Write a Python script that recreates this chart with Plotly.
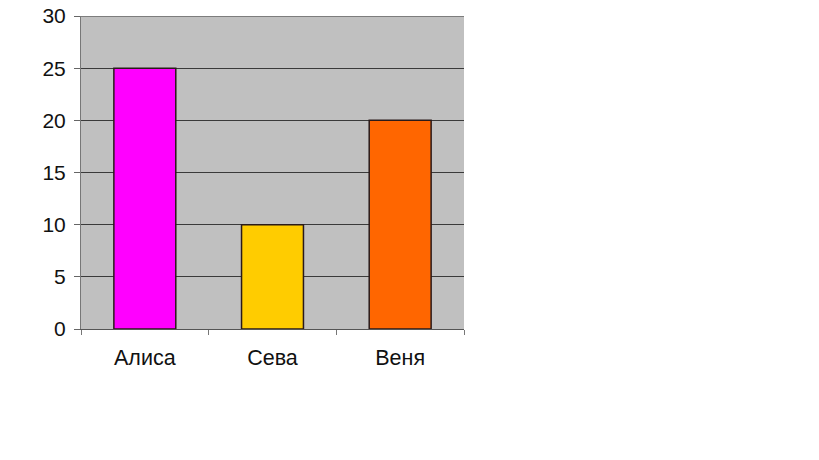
import plotly.graph_objects as go

names = ["Алиса", "Сева", "Веня"]
values = [25, 10, 20]
colors = ["#FF00FF", "#FFCC00", "#FF6600"]
y_ticks = [0, 5, 10, 15, 20, 25, 30]

fig = go.Figure(go.Bar(
    x=names, y=values,
    marker=dict(color=colors, line=dict(color="#2a1a1a", width=1.5)),
    width=0.485,
))

fig.update_layout(
    width=819, height=460,
    margin=dict(l=81, r=355, t=16, b=131, autoexpand=False),
    paper_bgcolor="white",
    plot_bgcolor="#C0C0C0",
    showlegend=False,
    font=dict(family="Liberation Sans, Arial, sans-serif", size=21, color="#111"),
    shapes=[dict(type="line", xref="paper", yref="y", x0=0, x1=1, y0=30, y1=30,
                 line=dict(color="#3a3a3a", width=1), layer="below")],
)
fig.update_yaxes(
    range=[0, 30], tickvals=y_ticks, showgrid=True, gridcolor="#3a3a3a", gridwidth=1,
    ticks="outside", ticklen=6, tickcolor="#666", showline=True, linecolor="#777", linewidth=1,
    zeroline=False, tickfont=dict(size=21), ticklabelstandoff=4, automargin=False,
    ticklabeloverflow="allow",
)
fig.update_xaxes(
    tickson="boundaries", ticks="outside", ticklen=5, tickcolor="#777",
    showline=True, linecolor="#555", linewidth=1, showgrid=False,
    ticklabelstandoff=9, automargin=False, tickfont=dict(size=21.5),
)

fig.write_html("out.html", config={"displayModeBar": False},
               post_script="document.body.style.margin='0';")
